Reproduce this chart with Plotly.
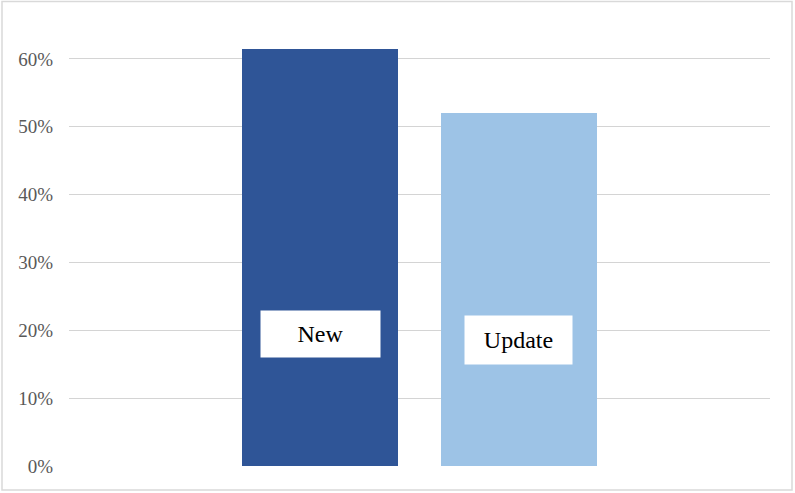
import plotly.graph_objects as go

categories = ["New", "Update"]
values = [0.615, 0.521]
colors = ["#2F5597", "#9DC3E6"]
tick_vals = [0, 0.1, 0.2, 0.3, 0.4, 0.5, 0.6]
tick_text = ["0%", "10%", "20%", "30%", "40%", "50%", "60%"]
label_y = [0.1945, 0.186]

fig = go.Figure()
fig.add_trace(go.Bar(
    x=categories, y=values, width=0.784,
    marker=dict(color=colors, line=dict(width=0)),
    hoverinfo="skip", showlegend=False,
))

for cat, ly, w, h in zip(categories, label_y, [111, 99], [38, 40]):
    fig.add_annotation(
        x=cat, y=ly, xref="x", yref="y", text=cat, showarrow=False,
        font=dict(family="Liberation Serif", size=24, color="#000000"),
        bgcolor="#FFFFFF", borderpad=4, width=w, height=h,
        align="center", valign="middle",
    )

fig.add_shape(type="rect", xref="paper", yref="paper",
              x0=(2 - 69) / 701, x1=(792 - 69) / 701,
              y0=-(490 - 466) / 441, y1=1 + (25 - 1.5) / 441,
              line=dict(color="#D9D9D9", width=1.5), fillcolor="rgba(0,0,0,0)")

fig.update_layout(
    width=795, height=493,
    margin=dict(l=69, r=25, t=25, b=27),
    paper_bgcolor="#FFFFFF", plot_bgcolor="#FFFFFF",
    xaxis=dict(type="category", range=[-1.264, 2.264], showticklabels=False,
               showgrid=False, zeroline=False, showline=False, fixedrange=True),
    yaxis=dict(range=[0, 0.65], tickvals=tick_vals, ticktext=tick_text,
               showgrid=True, gridcolor="#D4D4D4", gridwidth=1.3,
               zeroline=False, showline=False, ticks="",
               ticklabelstandoff=15,
               tickfont=dict(family="Liberation Serif", size=19, color="#595959")),
    bargap=0,
)

fig.write_html("out.html", config={"displayModeBar": False},
               post_script="document.body.style.margin='0';")
